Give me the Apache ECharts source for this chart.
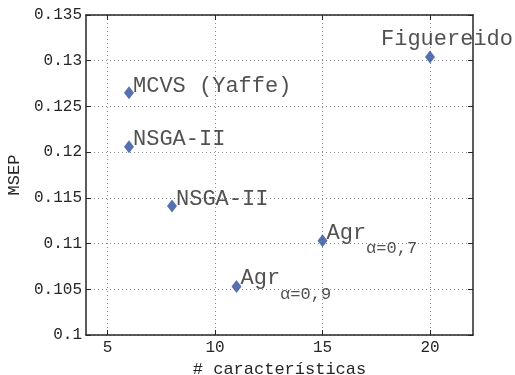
<!DOCTYPE html>
<html><head><meta charset="utf-8">
<script src="https://cdn.jsdelivr.net/npm/echarts@6/dist/echarts.min.js"></script>
<style>html,body{margin:0;padding:0;background:#fff}#c{width:515px;height:375px}</style>
</head><body><div id="c"></div>
<script>
var names = ['MCVS (Yaffe)', 'NSGA-II', 'NSGA-II', 'Agr', 'Agr', 'Figuereido'];
var subs = ['', '', '', 'α=0,7', 'α=0,9', ''];
var xs = [6, 6, 8, 15, 11, 20];
var ys = [0.1265, 0.1206, 0.1141, 0.1103, 0.1053, 0.1304];
var xTicks = [5, 10, 15, 20];

var FONT = '"Liberation Mono","Courier New",monospace';
var TXT = '#262626';
var data = xs.map(function (x, i) {
  var lbl;
  if (subs[i]) {
    lbl = {
      show: true, position: [9, -12.5], align: 'left', verticalAlign: 'top',
      formatter: '{a|' + names[i] + '}{s|' + subs[i] + '}',
      rich: {
        a: { fontFamily: FONT, fontSize: 22, color: TXT, lineHeight: 22, verticalAlign: 'top' },
        s: { fontFamily: FONT, fontSize: 17, color: TXT, lineHeight: 17, verticalAlign: 'top', padding: [18, 0, 0, 0] }
      }
    };
  } else if (names[i] === 'Figuereido') {
    lbl = { show: true, position: [-44, -11], align: 'left', verticalAlign: 'middle',
      formatter: names[i], fontFamily: FONT, fontSize: 22, color: TXT };
  } else {
    lbl = { show: true, position: [9, -0.5], align: 'left', verticalAlign: 'middle',
      formatter: names[i], fontFamily: FONT, fontSize: 22, color: TXT };
  }
  return { value: [x, ys[i]], label: lbl };
});

var axLine = { show: true, lineStyle: { color: '#262626', width: 1.5 } };
var grid = { type: [1, 3], color: '#8a8a8a', width: 1 };
var chart = echarts.init(document.getElementById('c'), null, { renderer: 'canvas' });
chart.setOption({
  animation: false,
  backgroundColor: '#fff',
  grid: { left: 86, right: 42, top: 15, bottom: 40, outerBoundsMode: 'none', containLabel: false },
  xAxis: [{
    type: 'value', min: 4, max: 22, position: 'bottom',
    name: '# características', nameLocation: 'middle', nameGap: 12,
    nameTextStyle: { fontFamily: FONT, fontSize: 17, color: TXT },
    axisLine: axLine,
    axisTick: { show: true, inside: true, length: 5, customValues: xTicks, lineStyle: { color: '#262626' } },
    axisLabel: { customValues: xTicks, fontFamily: FONT, fontSize: 16, color: TXT, margin: 5 },
    splitLine: { show: true, lineStyle: grid }
  }, {
    type: 'value', min: 4, max: 22, position: 'top',
    axisLine: axLine,
    axisTick: { show: true, inside: true, length: 5, customValues: xTicks, lineStyle: { color: '#262626' } },
    axisLabel: { show: false }, splitLine: { show: false }
  }],
  yAxis: [{
    type: 'value', min: 0.1, max: 0.135, interval: 0.005, position: 'left',
    name: 'MSEP', nameLocation: 'middle', nameGap: 57, nameRotate: 90,
    nameTextStyle: { fontFamily: FONT, fontSize: 17, color: TXT },
    axisLine: axLine,
    axisTick: { show: true, inside: true, length: 5, lineStyle: { color: '#262626' } },
    axisLabel: { fontFamily: FONT, fontSize: 16, color: TXT, margin: 4,
      formatter: function (v) { return String(Number(v.toFixed(3))); } },
    splitLine: { show: true, lineStyle: grid }
  }, {
    type: 'value', min: 0.1, max: 0.135, interval: 0.005, position: 'right',
    axisLine: axLine,
    axisTick: { show: true, inside: true, length: 5, lineStyle: { color: '#262626' } },
    axisLabel: { show: false }, splitLine: { show: false }
  }],
  series: [{
    type: 'scatter', xAxisIndex: 0, yAxisIndex: 0,
    symbol: 'diamond', symbolSize: [10, 13],
    itemStyle: { color: '#2a4d9c' },
    labelLayout: { hideOverlap: false },
    data: data
  }]
});
</script></body></html>
